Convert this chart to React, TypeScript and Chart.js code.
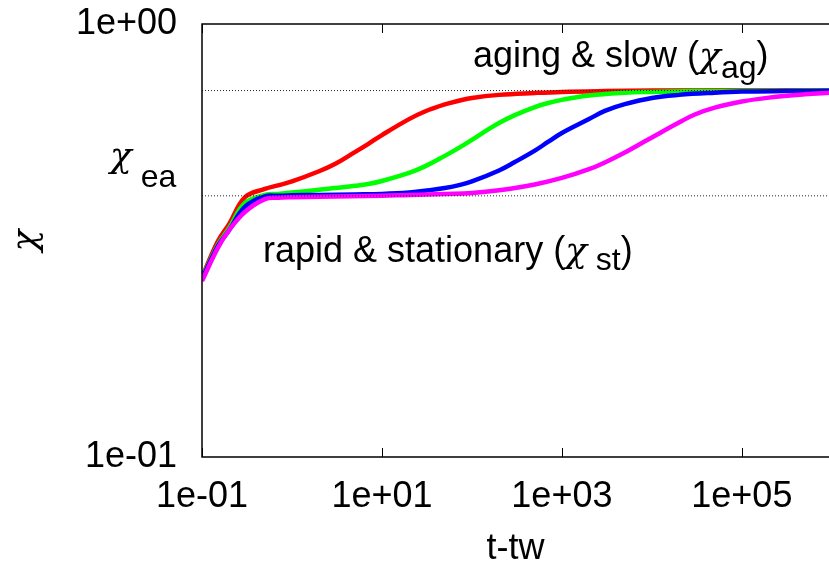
import React, { useEffect, useRef } from "react";
import { Chart, registerables } from "chart.js";

Chart.register(...registerables);

// ---- data ----
const redT = [0.1, 0.15, 0.2, 0.3, 0.5, 0.7, 1, 2, 3, 5, 7, 10, 20, 30, 50, 70, 100, 200, 500, 1000, 3000, 1e4, 1e6];
const redChi = [0.260, 0.315, 0.345, 0.398, 0.416, 0.424, 0.433, 0.457, 0.475, 0.506, 0.528, 0.554, 0.603, 0.628, 0.652, 0.664, 0.675, 0.686, 0.693, 0.697, 0.700, 0.702, 0.703];

const greenT = [0.1, 0.15, 0.2, 0.3, 0.5, 0.7, 1, 2, 3, 5, 7, 10, 20, 30, 50, 70, 100, 150, 200, 300, 500, 700, 1000, 2000, 5000, 1e4, 3e4, 1e5, 1e6];
const greenChi = [0.259, 0.309, 0.338, 0.386, 0.403, 0.405, 0.408, 0.414, 0.418, 0.423, 0.427, 0.434, 0.453, 0.469, 0.496, 0.516, 0.540, 0.570, 0.591, 0.616, 0.643, 0.657, 0.668, 0.684, 0.694, 0.697, 0.700, 0.701, 0.702];

const blueT = [0.1, 0.15, 0.2, 0.3, 0.5, 0.7, 1, 2, 5, 10, 20, 30, 50, 70, 100, 200, 300, 500, 700, 1000, 2000, 3000, 5000, 1e4, 2e4, 5e4, 1e5, 3e5, 1e6];
const blueChi = [0.258, 0.307, 0.334, 0.378, 0.400, 0.401, 0.402, 0.403, 0.404, 0.405, 0.408, 0.412, 0.418, 0.424, 0.433, 0.459, 0.480, 0.510, 0.534, 0.560, 0.603, 0.630, 0.653, 0.675, 0.686, 0.694, 0.698, 0.700, 0.701];

const magentaT = [0.1, 0.15, 0.2, 0.3, 0.5, 0.7, 1, 2, 10, 20, 50, 100, 200, 500, 1000, 2000, 3000, 5000, 7000, 1e4, 2e4, 3e4, 5e4, 1e5, 2e5, 5e5, 1e6];
const magentaChi = [0.255, 0.304, 0.334, 0.368, 0.394, 0.397, 0.398, 0.399, 0.401, 0.403, 0.405, 0.407, 0.413, 0.426, 0.441, 0.462, 0.479, 0.505, 0.525, 0.547, 0.592, 0.618, 0.641, 0.662, 0.676, 0.688, 0.694];

const chiAg = 0.702;
const chiEa = 0.401;
const refT = [0.1, 1e6];

const xTickValues = [0.1, 10, 1000, 100000];
const xTickLabels = ["1e-01", "1e+01", "1e+03", "1e+05"];
const yTickValues = [0.1, 1];
const yTickLabels = ["1e-01", "1e+00"];

const xMin = 0.1;
const xMax = 9.3e5;
const yMin = 0.1;
const yMax = 1;

const FONT = '"Liberation Sans", Arial, sans-serif';
const GREEK = '"DejaVu Serif", "Liberation Serif", serif';

function toPoints(ts: number[], ys: number[]) {
  return ts.map((t, i) => ({ x: t, y: ys[i] }));
}

type Part = { text: string; sub?: boolean; dy?: number; greek?: boolean };

function drawRich(ctx: CanvasRenderingContext2D, x: number, y: number, parts: Part[]) {
  let cx = x;
  for (const p of parts) {
    ctx.font = p.greek ? "italic 36px " + GREEK : (p.sub ? "32px " : "36px ") + FONT;
    ctx.fillText(p.text, cx, y + (p.dy || 0));
    cx += ctx.measureText(p.text).width;
  }
}

const framePlugin = {
  id: "frame",
  afterDraw(chart: any) {
    const { ctx, chartArea: a, scales } = chart;
    ctx.save();
    ctx.strokeStyle = "#000";
    ctx.lineWidth = 1.5;
    ctx.beginPath();
    ctx.moveTo(a.right + 5, a.top);
    ctx.lineTo(a.left, a.top);
    ctx.lineTo(a.left, a.bottom);
    ctx.lineTo(a.right + 5, a.bottom);
    ctx.stroke();
    ctx.lineWidth = 1;
    for (const t of scales.x.ticks) {
      const px = Math.round(scales.x.getPixelForValue(t.value)) + 0.5;
      ctx.beginPath();
      ctx.moveTo(px, a.bottom);
      ctx.lineTo(px, a.bottom - 9);
      ctx.moveTo(px, a.top);
      ctx.lineTo(px, a.top + 9);
      ctx.stroke();
    }
    ctx.fillStyle = "#000";
    ctx.textAlign = "left";
    ctx.textBaseline = "alphabetic";
    drawRich(ctx, 473, 67, [{ text: "aging & slow (" }, { text: "χ", greek: true }, { text: "ag", sub: true, dy: 11 }, { text: ")" }]);
    drawRich(ctx, 110, 167, [{ text: "χ", greek: true }, { text: " ea", sub: true, dy: 20 }]);
    drawRich(ctx, 263, 262, [{ text: "rapid & stationary (" }, { text: "χ", greek: true }, { text: " st", sub: true, dy: 8 }, { text: ")" }]);
    ctx.restore();
  },
};

export default function App() {
  const ref = useRef<HTMLCanvasElement | null>(null);
  useEffect(() => {
    document.body.style.margin = "0";
    const canvas = ref.current;
    if (!canvas) return;
    const line = (label: string, ts: number[], data: number[], color: string, order: number) => ({
      label,
      data: toPoints(ts, data),
      borderColor: color,
      backgroundColor: color,
      borderWidth: 4.5,
      pointRadius: 0,
      fill: false,
      tension: 0.4,
      order,
    });
    const dotted = (label: string, v: number) => ({
      label,
      data: refT.map((t) => ({ x: t, y: v })),
      borderColor: "#222",
      borderWidth: 1,
      borderDash: [1, 2],
      pointRadius: 0,
      order: -1,
    });
    const chart = new Chart(canvas, {
      type: "line",
      data: {
        datasets: [
          dotted("chi_ag", chiAg),
          dotted("chi_ea", chiEa),
          line("red", redT, redChi, "#ff0000", 3),
          line("green", greenT, greenChi, "#00ff00", 2),
          line("blue", blueT, blueChi, "#0000ff", 1),
          line("magenta", magentaT, magentaChi, "#ff00ff", 0),
        ],
      },
      options: {
        animation: false,
        responsive: false,
        devicePixelRatio: 1,
        layout: { padding: { top: 24, right: 0, bottom: 0, left: 0 } },
        plugins: { legend: { display: false }, tooltip: { enabled: false } },
        scales: {
          x: {
            type: "logarithmic",
            min: xMin,
            max: xMax,
            grid: { display: false },
            border: { display: false },
            afterBuildTicks: (s: any) => {
              s.ticks = xTickValues.map((v) => ({ value: v }));
            },
            afterFit: (s: any) => {
              s.height = 110;
              s.paddingLeft = 0;
              s.paddingRight = 0;
            },
            ticks: {
              autoSkip: false,
              maxRotation: 0,
              padding: 10,
              color: "#000",
              font: { family: FONT, size: 36 },
              callback: (_v: any, i: number) => xTickLabels[i],
            },
            title: {
              display: true,
              text: "t-tw",
              color: "#000",
              font: { family: FONT, size: 36 },
              padding: { top: 0, bottom: -4 },
            },
          },
          y: {
            type: "logarithmic",
            min: yMin,
            max: yMax,
            grid: { display: false },
            border: { display: false },
            afterBuildTicks: (s: any) => {
              s.ticks = yTickValues.map((v) => ({ value: v }));
            },
            afterFit: (s: any) => {
              s.width = 202;
              s.paddingTop = 0;
              s.paddingBottom = 0;
            },
            ticks: {
              autoSkip: false,
              padding: 17,
              color: "#000",
              font: { family: FONT, size: 36 },
              callback: (_v: any, i: number) => yTickLabels[i],
            },
            title: {
              display: true,
              text: "χ",
              color: "#000",
              font: { family: GREEK, size: 36, style: "italic" },
              padding: { top: 5, bottom: 0 },
            },
          },
        },
      },
      plugins: [framePlugin],
    });
    return () => chart.destroy();
  }, []);
  return (
    <div style={{ width: 829, height: 567, position: "relative", background: "#fff" }}>
      <canvas ref={ref} width={829} height={567} style={{ display: "block" }} />
    </div>
  );
}
